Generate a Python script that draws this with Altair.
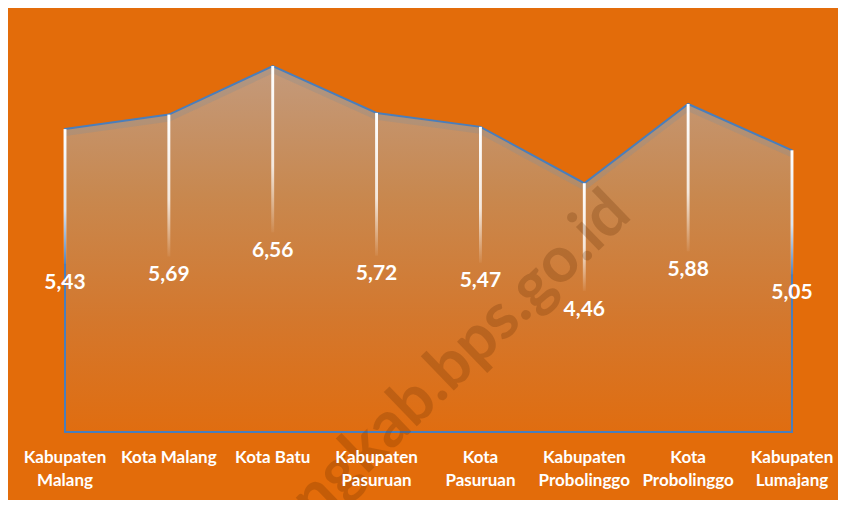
import altair as alt
import pandas as pd

categories = ["Kabupaten Malang", "Kota Malang", "Kota Batu", "Kabupaten Pasuruan",
              "Kota Pasuruan", "Kabupaten Probolinggo", "Kota Probolinggo", "Kabupaten Lumajang"]
tick_labels = ["Kabupaten\nMalang", "Kota Malang", "Kota Batu", "Kabupaten\nPasuruan",
               "Kota\nPasuruan", "Kabupaten\nProbolinggo", "Kota\nProbolinggo", "Kabupaten\nLumajang"]
values = [5.43, 5.69, 6.56, 5.72, 5.47, 4.46, 5.88, 5.05]
value_labels = ["5,43", "5,69", "6,56", "5,72", "5,47", "4,46", "5,88", "5,05"]
watermark = ["malangkab.bps.go.id"]

df = pd.DataFrame({
    "idx": list(range(len(categories))),
    "category": categories,
    "tick": tick_labels,
    "value": values,
    "label": value_labels,
})

BG = "#E36C0A"
FONT = "Lato"

xenc = alt.X("idx:Q", scale=alt.Scale(domain=[0, 7], nice=False, zero=False), axis=None)
yscale = alt.Scale(domain=[0, 7], nice=False)

base = alt.Chart(df)

area_grad = alt.Gradient(
    gradient="linear",
    stops=[
        alt.GradientStop(color="#C39A7C", offset=0),
        alt.GradientStop(color="#C8884F", offset=0.35),
        alt.GradientStop(color="#D4772C", offset=0.7),
        alt.GradientStop(color="#E06D10", offset=1),
    ],
    x1=0, x2=0, y1=0, y2=1,
)

area = base.mark_area(fill=area_grad, interpolate="linear").encode(
    x=xenc, y=alt.Y("value:Q", scale=yscale, axis=None)
)

shadow = base.mark_line(color="#8f8f8f", opacity=0.35, strokeWidth=6, yOffset=4).encode(
    x=xenc, y=alt.Y("value:Q", scale=yscale, axis=None)
)

outline = base.mark_area(fillOpacity=0, stroke="#4A7EBB", strokeWidth=2).encode(
    x=xenc, y=alt.Y("value:Q", scale=yscale, axis=None)
)

drop_grad = alt.Gradient(
    gradient="linear",
    stops=[
        alt.GradientStop(color="#FFFFFF", offset=0),
        alt.GradientStop(color="rgba(255,255,255,0.8)", offset=0.6),
        alt.GradientStop(color="rgba(255,255,255,0.05)", offset=1),
    ],
    x1=0, x2=0, y1=0, y2=1,
)

drops = base.transform_calculate(
    xl="datum.idx - 0.014", xr="datum.idx + 0.014", yb="datum.value / 2 + 0.3"
).mark_rect(fill=drop_grad).encode(
    x=alt.X("xl:Q", scale=alt.Scale(domain=[0, 7], nice=False, zero=False), axis=None),
    x2="xr:Q",
    y=alt.Y("value:Q", scale=yscale, axis=None),
    y2="yb:Q",
)

vlabels = base.transform_calculate(mid="datum.value / 2").mark_text(
    font=FONT, fontSize=21, fontWeight="bold", color="white", baseline="middle", align="center", dy=2
).encode(
    x=xenc, y=alt.Y("mid:Q", scale=yscale, axis=None), text="label:N"
)

ticks = base.mark_text(
    font=FONT, fontSize=17, fontWeight="bold", color="white", baseline="top", align="center",
    lineBreak="\n", lineHeight=23
).encode(
    x=xenc, y=alt.value(408.5), text="tick:N"
)

wm = alt.Chart(pd.DataFrame({"t": watermark})).mark_text(
    font=FONT, fontSize=64, fontWeight="bold", color="#5a2800", opacity=0.22, angle=316,
    align="center", baseline="middle"
).encode(x=alt.value(348), y=alt.value(362), text="t:N")

chart = alt.layer(area, shadow, outline, drops, wm, vlabels, ticks).properties(
    width=727, height=390.5,
    padding={"left": 57, "top": 33.5, "right": 46, "bottom": 68},
    autosize="none",
    background=BG,
).configure_view(stroke=None)

chart.save("out.html", embed_options={"renderer": "svg", "actions": False})
